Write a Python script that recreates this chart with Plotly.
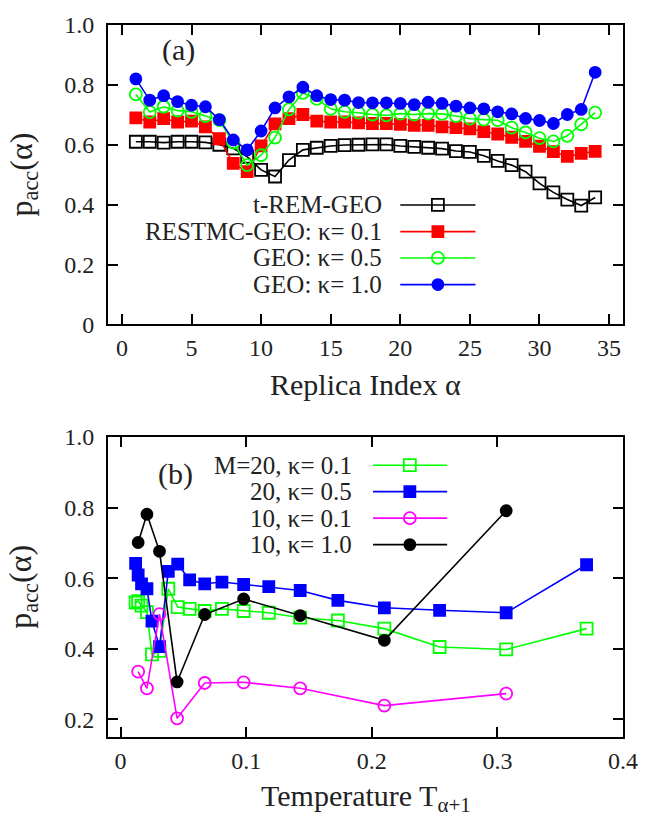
import plotly.graph_objects as go

# ---- panel (a): acceptance vs replica index
alpha = list(range(1, 35))
t_rem_geo = [0.610, 0.610, 0.607, 0.610, 0.610, 0.608, 0.600, 0.588, 0.560, 0.516,
             0.494, 0.549, 0.583, 0.590, 0.596, 0.599, 0.600, 0.601, 0.601, 0.596,
             0.593, 0.590, 0.587, 0.579, 0.576, 0.563, 0.546, 0.532, 0.510, 0.471,
             0.441, 0.417, 0.397, 0.424]
restmc_k01 = [0.690, 0.676, 0.687, 0.676, 0.679, 0.660, 0.620, 0.538, 0.510, 0.596,
              0.670, 0.687, 0.701, 0.679, 0.676, 0.676, 0.673, 0.671, 0.671, 0.668,
              0.665, 0.665, 0.660, 0.657, 0.653, 0.644, 0.636, 0.625, 0.611, 0.595,
              0.577, 0.561, 0.571, 0.578]
geo_k05 = [0.768, 0.709, 0.727, 0.714, 0.710, 0.696, 0.682, 0.607, 0.532, 0.565,
           0.624, 0.718, 0.773, 0.753, 0.720, 0.710, 0.707, 0.701, 0.698, 0.704,
           0.701, 0.704, 0.703, 0.696, 0.687, 0.684, 0.682, 0.657, 0.641, 0.622,
           0.611, 0.630, 0.668, 0.707]
geo_k10 = [0.820, 0.749, 0.764, 0.744, 0.732, 0.727, 0.684, 0.616, 0.583, 0.646,
           0.723, 0.760, 0.792, 0.764, 0.751, 0.749, 0.741, 0.740, 0.740, 0.738,
           0.734, 0.742, 0.738, 0.729, 0.723, 0.720, 0.710, 0.703, 0.688, 0.681,
           0.671, 0.701, 0.718, 0.842]

# ---- panel (b): acceptance vs temperature
temp_m20 = [0.012, 0.014, 0.0167, 0.021, 0.025, 0.031, 0.038, 0.0455, 0.055, 0.067,
            0.0807, 0.098, 0.118, 0.143, 0.173, 0.21, 0.254, 0.307, 0.371]
m20_k01 = [0.531, 0.535, 0.522, 0.504, 0.384, 0.394, 0.570, 0.518, 0.513, 0.507,
           0.513, 0.507, 0.502, 0.488, 0.480, 0.457, 0.405, 0.398, 0.457]
m20_k05 = [0.642, 0.609, 0.584, 0.570, 0.478, 0.406, 0.619, 0.640, 0.595, 0.584,
           0.589, 0.582, 0.576, 0.565, 0.537, 0.516, 0.509, 0.502, 0.638]
temp_m10 = [0.014, 0.021, 0.031, 0.045, 0.067, 0.098, 0.143, 0.21, 0.307]
m10_k01 = [0.335, 0.288, 0.498, 0.203, 0.303, 0.305, 0.288, 0.239, 0.273]
m10_k10 = [0.701, 0.781, 0.676, 0.306, 0.497, 0.541, 0.494, 0.424, 0.791]

legend_a = ["t-REM-GEO", "RESTMC-GEO: κ= 0.1", "GEO: κ= 0.5", "GEO: κ= 1.0"]
legend_b = ["M=20, κ= 0.1", "20, κ= 0.5", "10, κ= 0.1", "10, κ= 1.0"]

FONT = "Liberation Serif"
TXT = "#222"

fig = go.Figure()

# (name, x, y, color, symbol, panel)
series = [
    (legend_a[0], alpha, t_rem_geo, "black", "square-open", "a"),
    (legend_a[1], alpha, restmc_k01, "#ff0000", "square", "a"),
    (legend_a[2], alpha, geo_k05, "#00ff00", "circle-open", "a"),
    (legend_a[3], alpha, geo_k10, "#0000ff", "circle", "a"),
    (legend_b[0], temp_m20, m20_k01, "#00ff00", "square-open", "b"),
    (legend_b[1], temp_m20, m20_k05, "#0000ff", "square", "b"),
    (legend_b[2], temp_m10, m10_k01, "#ff00ff", "circle-open", "b"),
    (legend_b[3], temp_m10, m10_k10, "black", "circle", "b"),
]

for name, xs, ys, col, sym, panel in series:
    fig.add_trace(go.Scatter(
        x=xs, y=ys, name=name, mode="lines+markers",
        line=dict(color=col, width=1.6),
        marker=dict(symbol=sym, color=col, size=12 if "open" in sym else 11,
                    line=dict(color=col, width=1.8)),
        xaxis="x" if panel == "a" else "x2",
        yaxis="y" if panel == "a" else "y2",
        showlegend=False,
    ))

# gnuplot style keys: text on the left, sample on the right
shapes = []
annotations = []
key_a = dict(xr="x", yr="y", text_x=18.8, x0=20.0, x1=25.4, xm=22.7,
             rows=[0.399, 0.310, 0.222, 0.133])
key_b = dict(xr="x2", yr="y2", text_x=0.186, x0=0.201, x1=0.260, xm=0.2303,
             rows=[0.920, 0.845, 0.770, 0.695])

for key, idx in [(key_a, range(0, 4)), (key_b, range(4, 8))]:
    for row, i in zip(key["rows"], idx):
        name, _, _, col, sym, _ = series[i]
        annotations.append(dict(x=key["text_x"], y=row, xref=key["xr"], yref=key["yr"],
                                text=name, showarrow=False, xanchor="right",
                                yanchor="middle", font=dict(family=FONT, size=25, color=TXT)))
        shapes.append(dict(type="line", x0=key["x0"], x1=key["x1"], y0=row, y1=row,
                           xref=key["xr"], yref=key["yr"], line=dict(color=col, width=1.6)))
        filled = "open" not in sym
        half = 5.5 if filled else 6
        shapes.append(dict(type="rect" if "square" in sym else "circle",
                           xref=key["xr"], yref=key["yr"],
                           xsizemode="pixel", ysizemode="pixel",
                           xanchor=key["xm"], yanchor=row,
                           x0=-half, x1=half, y0=-half, y1=half,
                           fillcolor=col if filled else "rgba(0,0,0,0)",
                           line=dict(color=col, width=1.8)))

annotations += [
    dict(x=4.1, y=0.916, xref="x", yref="y", text="(a)", showarrow=False,
         font=dict(family=FONT, size=30, color=TXT)),
    dict(x=0.044, y=0.894, xref="x2", yref="y2", text="(b)", showarrow=False,
         font=dict(family=FONT, size=30, color=TXT)),
    dict(x=0.5, y=0.495, xref="paper", yref="paper", text="Replica Index α",
         showarrow=False, yanchor="middle", font=dict(family=FONT, size=30, color=TXT)),
    dict(x=0.5, y=-0.085, xref="paper", yref="paper", text="Temperature T<sub>α+1</sub>",
         showarrow=False, yanchor="middle", font=dict(family=FONT, size=30, color=TXT)),
    dict(x=-0.165, y=0.790, xref="paper", yref="paper", text="p<sub>acc</sub>(α)",
         showarrow=False, textangle=-90, xanchor="center", yanchor="middle",
         font=dict(family=FONT, size=32, color=TXT)),
    dict(x=-0.165, y=0.211, xref="paper", yref="paper", text="p<sub>acc</sub>(α)",
         showarrow=False, textangle=-90, xanchor="center", yanchor="middle",
         font=dict(family=FONT, size=32, color=TXT)),
]

axis_common = dict(showline=True, linewidth=2, linecolor="black", mirror="allticks",
                   ticks="inside", ticklen=10, tickwidth=1.5, tickcolor="black",
                   showgrid=False, zeroline=False,
                   tickfont=dict(family=FONT, size=24, color=TXT))

fig.update_layout(
    width=650, height=821,
    margin=dict(l=108, r=20, t=22, b=84),
    paper_bgcolor="white", plot_bgcolor="white",
    xaxis=dict(axis_common, domain=[0, 1], anchor="y", range=[-1, 36],
               tickvals=[0, 5, 10, 15, 20, 25, 30, 35], ticklabelstandoff=1),
    yaxis=dict(axis_common, domain=[0.5795, 1], anchor="x", range=[0, 1],
               tickvals=[0, 0.2, 0.4, 0.6, 0.8, 1.0],
               ticktext=["0", "0.2", "0.4", "0.6", "0.8", "1.0"], ticklabelstandoff=7),
    xaxis2=dict(axis_common, domain=[0, 1], anchor="y2", range=[-0.01, 0.4],
                tickvals=[0, 0.1, 0.2, 0.3, 0.4],
                ticktext=["0", "0.1", "0.2", "0.3", "0.4"], ticklabelstandoff=1),
    yaxis2=dict(axis_common, domain=[0, 0.4214], anchor="x2", range=[0.15, 1.0],
                tickvals=[0.2, 0.4, 0.6, 0.8, 1.0],
                ticktext=["0.2", "0.4", "0.6", "0.8", "1.0"], ticklabelstandoff=7),
    shapes=shapes,
    annotations=annotations,
)

# drop the browser's default body margin so the figure sits at the page corner
fig.write_html("out.html", config={"displayModeBar": False},
               post_script="document.body.style.margin='0px';")
